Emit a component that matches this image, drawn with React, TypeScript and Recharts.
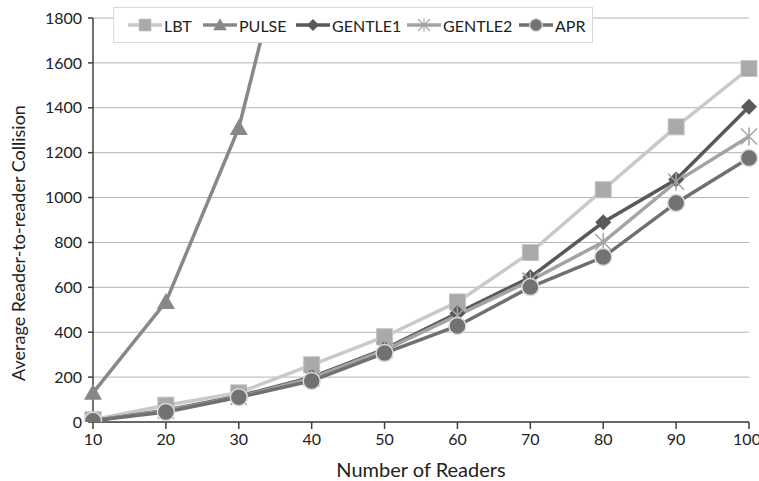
import { LineChart, Line, XAxis, YAxis, CartesianGrid } from "recharts";

const readers = [10, 20, 30, 40, 50, 60, 70, 80, 90, 100];
const lbt = [10, 75, 130, 255, 380, 535, 755, 1035, 1315, 1575];
const pulse = [130, 535, 1310, 2600, null, null, null, null, null, null];
const gentle1 = [6, 52, 115, 200, 325, 485, 645, 890, 1080, 1405];
const gentle2 = [6, 50, 112, 195, 320, 475, 630, 802, 1070, 1272];
const apr = [6, 45, 110, 183, 307, 428, 601, 735, 976, 1176];
const yTicks = [0, 200, 400, 600, 800, 1000, 1200, 1400, 1600, 1800];

const data = readers.map((r, i) => ({
  readers: r,
  LBT: lbt[i],
  PULSE: pulse[i],
  GENTLE1: gentle1[i],
  GENTLE2: gentle2[i],
  APR: apr[i],
}));

const FONT = "Lato, 'Open Sans', sans-serif";

type Kind = "square" | "triangle" | "diamond" | "star" | "circle";

const series: { key: string; color: string; mark: string; kind: Kind; at: number }[] = [
  { key: "LBT", color: "#c9c9c9", mark: "#a9a9a9", kind: "square", at: 14 },
  { key: "PULSE", color: "#888888", mark: "#888888", kind: "triangle", at: 89 },
  { key: "GENTLE1", color: "#595959", mark: "#595959", kind: "diamond", at: 182 },
  { key: "GENTLE2", color: "#a3a3a3", mark: "#a3a3a3", kind: "star", at: 293 },
  { key: "APR", color: "#707070", mark: "#727272", kind: "circle", at: 405 },
];

function Marker({ kind, cx, cy, fill }: { kind: Kind; cx: number; cy: number; fill: string }) {
  if (kind === "square")
    return <rect x={cx - 8} y={cy - 8} width={16} height={16} fill={fill} stroke="#c4c4c4" strokeWidth={1} />;
  if (kind === "triangle")
    return <polygon points={`${cx},${cy - 9} ${cx + 9},${cy + 7} ${cx - 9},${cy + 7}`} fill={fill} />;
  if (kind === "diamond")
    return <polygon points={`${cx},${cy - 8} ${cx + 8},${cy} ${cx},${cy + 8} ${cx - 8},${cy}`} fill={fill} />;
  if (kind === "star")
    return (
      <g stroke={fill} strokeWidth={1.5}>
        <line x1={cx - 8} y1={cy - 8} x2={cx + 8} y2={cy + 8} />
        <line x1={cx - 8} y1={cy + 8} x2={cx + 8} y2={cy - 8} />
        <line x1={cx} y1={cy - 9} x2={cx} y2={cy + 9} />
      </g>
    );
  return <circle cx={cx} cy={cy} r={8.5} fill={fill} stroke="#dcdcdc" strokeWidth={1.5} />;
}

function YTitle({ viewBox }: any) {
  const cx = viewBox.x + 18;
  const cy = viewBox.y + viewBox.height / 2 + 23;
  return (
    <text
      x={cx}
      y={cy}
      transform={`rotate(-90 ${cx} ${cy})`}
      textAnchor="middle"
      dominantBaseline="central"
      fill="#222"
      fontSize={18}
      fontFamily={FONT}
    >
      Average Reader-to-reader Collision
    </text>
  );
}

function LegendBox() {
  return (
    <div
      style={{
        position: "absolute",
        left: 113,
        top: 7,
        width: 480,
        height: 36,
        background: "#fff",
        border: "1px solid #d9d9d9",
        boxSizing: "border-box",
        fontFamily: FONT,
        fontSize: 16,
        color: "#222",
      }}
    >
      {series.map((s) => (
        <div
          key={s.key}
          style={{ position: "absolute", left: s.at, top: 0, height: 34, display: "flex", alignItems: "center" }}
        >
          <svg width={34} height={20}>
            <line x1={0} y1={10} x2={34} y2={10} stroke={s.color} strokeWidth={3.5} />
            <g transform="translate(17,10) scale(0.75) translate(-17,-10)">
              <Marker kind={s.kind} cx={17} cy={10} fill={s.mark} />
            </g>
          </svg>
          <span style={{ marginLeft: 2 }}>{s.key}</span>
        </div>
      ))}
    </div>
  );
}

export default function App() {
  return (
    <div style={{ position: "absolute", left: 0, top: 0, width: 759, height: 481, background: "#fff" }}>
      <LineChart width={759} height={481} data={data} margin={{ top: 18, right: 10, left: 0, bottom: 0 }}>
        <CartesianGrid vertical={false} stroke="#b3b3b3" strokeWidth={1} />
        <XAxis
          dataKey="readers"
          type="number"
          domain={[10, 100]}
          ticks={readers}
          height={59}
          stroke="#404040"
          strokeWidth={1.5}
          tickSize={7}
          tickMargin={5}
          tick={{ fill: "#222", fontSize: 16, fontFamily: FONT }}
          label={{ value: "Number of Readers", position: "insideBottom", offset: 4, fill: "#222", fontSize: 20, fontFamily: FONT }}
        />
        <YAxis
          domain={[0, 1800]}
          ticks={yTicks}
          allowDataOverflow
          width={93}
          stroke="#404040"
          strokeWidth={1.5}
          tickSize={5}
          tickMargin={6}
          tick={{ fill: "#222", fontSize: 16, fontFamily: FONT }}
          label={{ content: (props: any) => <YTitle {...props} /> }}
        />
        {series.map((s) => (
          <Line
            key={s.key}
            dataKey={s.key}
            stroke={s.color}
            strokeWidth={3.5}
            isAnimationActive={false}
            dot={(p: any) => (
              <Marker key={`${s.key}-${p.index}`} kind={s.kind} cx={p.cx} cy={p.cy} fill={s.mark} />
            )}
            activeDot={false}
          />
        ))}
      </LineChart>
      <LegendBox />
    </div>
  );
}
